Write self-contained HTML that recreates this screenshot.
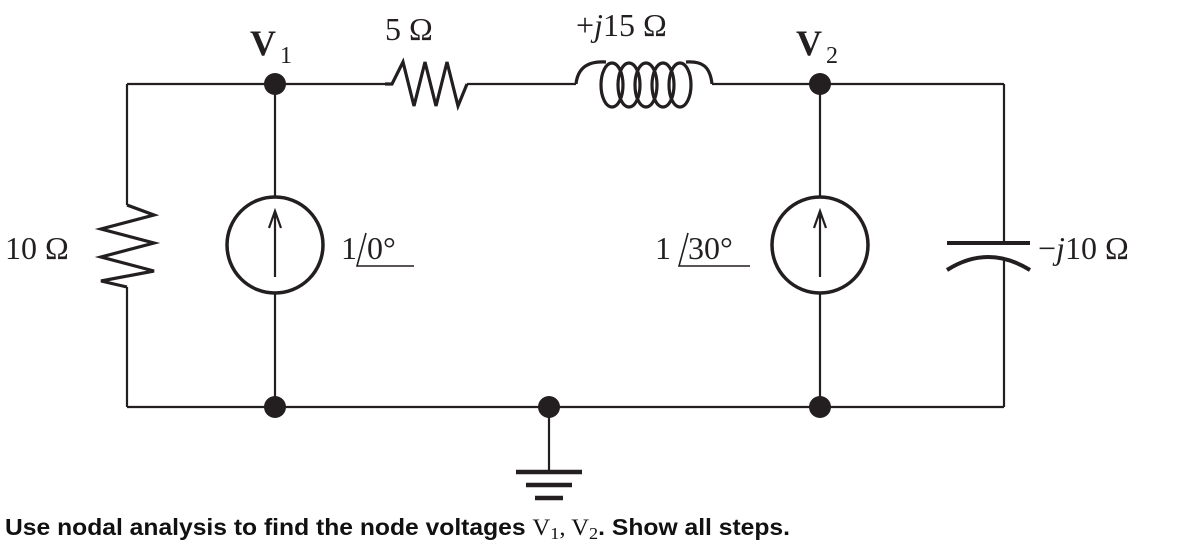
<!DOCTYPE html>
<html><head><meta charset="utf-8"><style>
html,body{margin:0;padding:0;background:#fff;}
svg{display:block;}
.s{font-family:"Liberation Serif",serif;fill:#231f20;}
</style></head><body>
<svg width="1188" height="543" viewBox="0 0 1188 543" xmlns="http://www.w3.org/2000/svg">
<g stroke="#231f20" fill="none" stroke-width="2.2">
<path d="M127 84 H385 M467 84 H576 M712 84 H1004"/>
<path d="M127 407 H1004"/>
<path d="M127 84 V205 M127 287 V407"/>
<path d="M127 205 L154 215 L101 229 L154 243 L101 257 L154 271 L101 281 L127 287" stroke-width="3.2"/>
<path d="M385 84 L392 84 L403 62 L414 106 L425 62 L436 106 L447 62 L458 106 L467 84" stroke-width="3.2"/>
<g stroke-width="3.2">
<path d="M576 84 C578 66 590 61 606 62"/>
<ellipse cx="612" cy="85" rx="11" ry="22"/>
<ellipse cx="629" cy="85" rx="11" ry="22"/>
<ellipse cx="646" cy="85" rx="11" ry="22"/>
<ellipse cx="663" cy="85" rx="11" ry="22"/>
<ellipse cx="680" cy="85" rx="11" ry="22"/>
<path d="M686 62 C702 61 710 66 712 84"/>
</g>
<path d="M275 84 V197 M275 293 V407"/>
<circle cx="275" cy="245" r="48" stroke-width="3.5"/>
<path d="M275 277 V211 M269 228 L275 211 L281 228"/>
<path d="M820 84 V197 M820 293 V407"/>
<circle cx="820" cy="245" r="48" stroke-width="3.5"/>
<path d="M820 277 V211 M814 228 L820 211 L826 228"/>
<path d="M1004 84 V243 M1004 260 V407"/>
<path d="M947 243 H1030" stroke-width="4"/>
<path d="M947 270 Q988 244 1030 270" stroke-width="4"/>
<path d="M549 407 V472"/>
<path d="M516 472 H582 M526 485 H572 M535 498 H563" stroke-width="4.5"/>
<path d="M366 233 L357 266 H414" stroke-width="1.6"/>
<path d="M688 233 L679 266 H750" stroke-width="1.6"/>
</g>
<g fill="#231f20">
<circle cx="275" cy="84" r="11"/><circle cx="820" cy="84" r="11"/>
<circle cx="275" cy="407" r="11"/><circle cx="549" cy="407" r="11"/><circle cx="820" cy="407" r="11"/>
</g>
<text class="s" x="250" y="55" font-size="36" font-weight="bold">V</text>
<text class="s" x="280" y="63" font-size="24">1</text>
<text class="s" x="796" y="55" font-size="36" font-weight="bold">V</text>
<text class="s" x="826" y="63" font-size="24">2</text>
<text class="s" x="385" y="40" font-size="32">5 Ω</text>
<text class="s" x="576" y="36" font-size="32">+<tspan font-style="italic">j</tspan>15 Ω</text>
<text class="s" x="5" y="259" font-size="32">10 Ω</text>
<text class="s" x="341" y="259" font-size="32">1</text>
<text class="s" x="367" y="259" font-size="32">0°</text>
<text class="s" x="655" y="259" font-size="32">1</text>
<text class="s" x="688" y="259" font-size="32">30°</text>
<text class="s" x="1038" y="259" font-size="32">−<tspan font-style="italic">j</tspan>10 Ω</text>
<text x="5" y="535" font-family="Liberation Sans, sans-serif" font-weight="bold" font-size="23" fill="#111" textLength="785" lengthAdjust="spacingAndGlyphs">Use nodal analysis to find the node voltages <tspan font-family="Liberation Serif, serif" font-weight="normal">V<tspan font-size="17" dy="4">1</tspan><tspan dy="-4">, V</tspan><tspan font-size="17" dy="4">2</tspan></tspan><tspan dy="-4">. Show all steps.</tspan></text>
</svg>
</body></html>
